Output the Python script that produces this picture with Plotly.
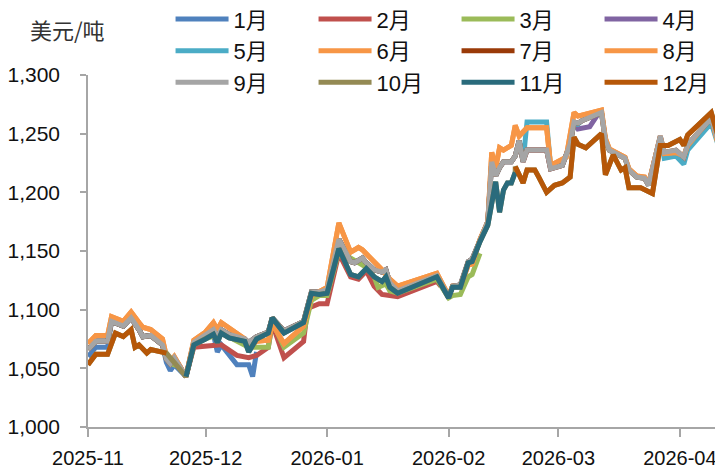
import plotly.graph_objects as go

# ---------------- data ----------------
month_labels = ["1月", "2月", "3月", "4月", "5月", "6月", "7月", "8月", "9月", "10月", "11月", "12月"]
colors = ["#4F81BD", "#C0504D", "#9BBB59", "#8064A2", "#4BACC6", "#F79646",
          "#9A3A08", "#F79646", "#A5A5A5", "#948A54", "#2A6B7C", "#B65708"]

# 9月 (gray)
m9 = [("2025-11-01", 1066), ("2025-11-03", 1073), ("2025-11-06", 1073), ("2025-11-07", 1090),
      ("2025-11-10", 1086), ("2025-11-12", 1093), ("2025-11-14", 1083), ("2025-11-15", 1077),
      ("2025-11-17", 1078), ("2025-11-20", 1070), ("2025-11-21", 1058), ("2025-11-22", 1054),
      ("2025-11-23", 1059), ("2025-11-26", 1043), ("2025-11-28", 1072), ("2025-12-01", 1078),
      ("2025-12-03", 1083), ("2025-12-04", 1077), ("2025-12-05", 1083), ("2025-12-07", 1079),
      ("2025-12-11", 1075), ("2025-12-12", 1072), ("2025-12-14", 1077), ("2025-12-17", 1081),
      ("2025-12-18", 1093), ("2025-12-21", 1082), ("2025-12-26", 1090), ("2025-12-28", 1115),
      ("2025-12-30", 1115), ("2026-01-01", 1117), ("2026-01-04", 1160), ("2026-01-07", 1141),
      ("2026-01-08", 1140), ("2026-01-10", 1144), ("2026-01-11", 1140), ("2026-01-13", 1134),
      ("2026-01-15", 1132), ("2026-01-16", 1134), ("2026-01-17", 1123), ("2026-01-19", 1116),
      ("2026-01-29", 1129), ("2026-02-01", 1111), ("2026-02-02", 1120), ("2026-02-04", 1121),
      ("2026-02-06", 1141), ("2026-02-07", 1143), ("2026-02-09", 1160), ("2026-02-11", 1175),
      ("2026-02-12", 1226), ("2026-02-13", 1214), ("2026-02-14", 1221), ("2026-02-15", 1226),
      ("2026-02-17", 1226), ("2026-02-18", 1231), ("2026-02-19", 1244), ("2026-02-20", 1226),
      ("2026-02-21", 1236), ("2026-02-26", 1236), ("2026-02-27", 1220), ("2026-03-02", 1223),
      ("2026-03-04", 1241), ("2026-03-05", 1260), ("2026-03-06", 1259), ("2026-03-07", 1261),
      ("2026-03-12", 1268), ("2026-03-13", 1244), ("2026-03-14", 1236), ("2026-03-18", 1229),
      ("2026-03-19", 1219), ("2026-03-21", 1213), ("2026-03-23", 1212), ("2026-03-24", 1206),
      ("2026-03-27", 1248), ("2026-03-28", 1234), ("2026-03-31", 1236), ("2026-04-02", 1230),
      ("2026-04-03", 1241), ("2026-04-09", 1263), ("2026-04-12", 1230)]

# 6月 / 8月 (orange)
m6 = [("2025-11-01", 1071), ("2025-11-03", 1078), ("2025-11-06", 1078), ("2025-11-07", 1094),
      ("2025-11-10", 1090), ("2025-11-12", 1098), ("2025-11-14", 1089), ("2025-11-15", 1085),
      ("2025-11-17", 1083), ("2025-11-20", 1075), ("2025-11-21", 1060), ("2025-11-22", 1056),
      ("2025-11-23", 1060), ("2025-11-26", 1043), ("2025-11-28", 1074), ("2025-12-01", 1081),
      ("2025-12-03", 1089), ("2025-12-04", 1083), ("2025-12-05", 1089), ("2025-12-07", 1084),
      ("2025-12-11", 1075), ("2025-12-12", 1068), ("2025-12-14", 1073), ("2025-12-17", 1074),
      ("2025-12-18", 1088), ("2025-12-21", 1071), ("2025-12-26", 1086), ("2025-12-28", 1112),
      ("2025-12-30", 1115), ("2026-01-01", 1119), ("2026-01-04", 1174), ("2026-01-07", 1149),
      ("2026-01-09", 1153), ("2026-01-10", 1151), ("2026-01-15", 1134), ("2026-01-17", 1126),
      ("2026-01-19", 1120), ("2026-01-29", 1131), ("2026-02-01", 1112), ("2026-02-02", 1120),
      ("2026-02-04", 1120), ("2026-02-06", 1138), ("2026-02-07", 1139), ("2026-02-09", 1160),
      ("2026-02-11", 1175), ("2026-02-12", 1234), ("2026-02-13", 1221), ("2026-02-14", 1238),
      ("2026-02-15", 1236), ("2026-02-17", 1240), ("2026-02-18", 1257), ("2026-02-19", 1248),
      ("2026-02-21", 1255), ("2026-02-26", 1255), ("2026-02-27", 1223), ("2026-03-03", 1230),
      ("2026-03-05", 1268), ("2026-03-06", 1265), ("2026-03-12", 1270), ("2026-03-13", 1246),
      ("2026-03-14", 1237), ("2026-03-18", 1230), ("2026-03-19", 1220), ("2026-03-21", 1214),
      ("2026-03-23", 1213), ("2026-03-24", 1207), ("2026-03-27", 1247), ("2026-03-28", 1233),
      ("2026-03-31", 1234), ("2026-04-02", 1231), ("2026-04-03", 1240), ("2026-04-09", 1264),
      ("2026-04-11", 1238), ("2026-04-12", 1235)]

# 12月 (dark orange): expiring contract in Nov, new contract from mid-Feb
m12_old = [("2025-11-01", 1053), ("2025-11-03", 1062), ("2025-11-06", 1062), ("2025-11-08", 1080),
           ("2025-11-10", 1077), ("2025-11-12", 1083), ("2025-11-13", 1068), ("2025-11-14", 1070),
           ("2025-11-16", 1063), ("2025-11-17", 1066), ("2025-11-21", 1063)]
m12_new = [("2026-02-18", 1222), ("2026-02-20", 1208), ("2026-02-21", 1219), ("2026-02-23", 1219),
           ("2026-02-24", 1213), ("2026-02-26", 1200), ("2026-02-28", 1206), ("2026-03-02", 1208),
           ("2026-03-04", 1213), ("2026-03-05", 1247), ("2026-03-06", 1241), ("2026-03-08", 1238),
           ("2026-03-12", 1250), ("2026-03-13", 1215), ("2026-03-15", 1232), ("2026-03-17", 1219),
           ("2026-03-18", 1221), ("2026-03-19", 1204), ("2026-03-22", 1204), ("2026-03-25", 1199),
           ("2026-03-27", 1240), ("2026-03-29", 1240), ("2026-04-01", 1245), ("2026-04-02", 1240),
           ("2026-04-03", 1249), ("2026-04-09", 1268), ("2026-04-11", 1245), ("2026-04-12", 1245)]

# 11月 (teal)
m11 = [("2025-11-26", 1043), ("2025-11-28", 1070), ("2025-12-01", 1075), ("2025-12-03", 1079),
       ("2025-12-04", 1072), ("2025-12-05", 1080), ("2025-12-07", 1076), ("2025-12-11", 1073),
       ("2025-12-12", 1064), ("2025-12-14", 1075), ("2025-12-17", 1080), ("2025-12-18", 1093),
       ("2025-12-21", 1080), ("2025-12-26", 1089), ("2025-12-28", 1114), ("2025-12-30", 1113),
       ("2026-01-01", 1114), ("2026-01-04", 1152), ("2026-01-07", 1130), ("2026-01-09", 1128),
       ("2026-01-11", 1135), ("2026-01-13", 1128), ("2026-01-15", 1124), ("2026-01-16", 1128),
       ("2026-01-17", 1119), ("2026-01-19", 1114), ("2026-01-29", 1128), ("2026-02-01", 1110),
       ("2026-02-02", 1119), ("2026-02-04", 1119), ("2026-02-06", 1140), ("2026-02-07", 1141),
       ("2026-02-09", 1158), ("2026-02-11", 1172), ("2026-02-13", 1209), ("2026-02-14", 1183),
       ("2026-02-15", 1202), ("2026-02-16", 1208), ("2026-02-17", 1208), ("2026-02-18", 1217)]

# 1月 (blue) until mid-Dec
m1_own = [("2025-11-01", 1060), ("2025-11-03", 1068), ("2025-11-06", 1068)]
m1_tail = [("2025-11-21", 1055), ("2025-11-22", 1048), ("2025-11-23", 1053), ("2025-11-26", 1043),
           ("2025-11-28", 1070), ("2025-12-01", 1075), ("2025-12-03", 1079), ("2025-12-04", 1064),
           ("2025-12-05", 1070), ("2025-12-09", 1053), ("2025-12-12", 1053), ("2025-12-13", 1043),
           ("2025-12-14", 1064)]

# 2月 (red) until end of Jan
m2_own = [("2025-11-28", 1068), ("2025-12-01", 1069), ("2025-12-05", 1070), ("2025-12-09", 1061),
          ("2025-12-12", 1059), ("2025-12-14", 1061), ("2025-12-17", 1068), ("2025-12-18", 1088),
          ("2025-12-21", 1059), ("2025-12-26", 1073), ("2025-12-27", 1101), ("2025-12-30", 1105),
          ("2026-01-01", 1105), ("2026-01-04", 1148), ("2026-01-07", 1128), ("2026-01-09", 1126),
          ("2026-01-11", 1133), ("2026-01-13", 1120), ("2026-01-15", 1113), ("2026-01-17", 1112),
          ("2026-01-19", 1111), ("2026-01-29", 1124), ("2026-01-30", 1120)]

# 3月 (green) until ~10 Feb
m3_own = [("2025-11-22", 1054), ("2025-11-24", 1052), ("2025-11-26", 1043), ("2025-11-28", 1070),
          ("2025-12-01", 1075), ("2025-12-05", 1080), ("2025-12-11", 1070), ("2025-12-12", 1068),
          ("2025-12-14", 1068), ("2025-12-17", 1068), ("2025-12-18", 1090), ("2025-12-21", 1068),
          ("2025-12-26", 1080), ("2025-12-28", 1108), ("2025-12-30", 1112), ("2026-01-01", 1112),
          ("2026-01-04", 1150), ("2026-01-07", 1144), ("2026-01-09", 1140), ("2026-01-11", 1136),
          ("2026-01-13", 1128), ("2026-01-14", 1119), ("2026-01-16", 1122), ("2026-01-17", 1116),
          ("2026-01-19", 1114), ("2026-01-29", 1126), ("2026-02-01", 1110), ("2026-02-02", 1112),
          ("2026-02-04", 1113), ("2026-02-06", 1128), ("2026-02-07", 1130), ("2026-02-09", 1148)]

# 4月 (purple) until ~11 Mar
m4_own = [("2026-03-06", 1254), ("2026-03-09", 1256), ("2026-03-11", 1266)]

# 5月 (light blue)
m5_own = [("2026-02-18", 1231), ("2026-02-19", 1244), ("2026-02-20", 1226), ("2026-02-21", 1260),
          ("2026-02-26", 1260), ("2026-02-27", 1223), ("2026-03-02", 1223), ("2026-03-04", 1241),
          ("2026-03-05", 1259), ("2026-03-06", 1258), ("2026-03-07", 1261), ("2026-03-12", 1268),
          ("2026-03-13", 1244), ("2026-03-14", 1236), ("2026-03-18", 1229), ("2026-03-19", 1219),
          ("2026-03-21", 1213), ("2026-03-23", 1212), ("2026-03-24", 1206), ("2026-03-27", 1246),
          ("2026-03-28", 1229), ("2026-03-31", 1231), ("2026-04-02", 1224), ("2026-04-03", 1236),
          ("2026-04-09", 1259), ("2026-04-12", 1227)]

tick_dates = ["2025-11-01", "2025-12-01", "2026-01-01", "2026-02-01", "2026-03-01", "2026-04-01"]
tick_text = ["2025-11", "2025-12", "2026-01", "2026-02", "2026-03", "2026-04"]
y_ticks = [1000, 1050, 1100, 1150, 1200, 1250, 1300]


def between(points, start, end):
    return [p for p in points if start <= p[0] <= end]


def gap():
    return [(None, None)]


series_points = [
    m1_own + between(m9, "2025-11-07", "2025-11-20") + m1_tail,                    # 1月
    between(m9, "2025-11-01", "2025-11-26") + m2_own,                              # 2月
    between(m9, "2025-11-01", "2025-11-21") + m3_own,                              # 3月
    between(m9, "2025-11-01", "2026-03-05") + m4_own,                              # 4月
    between(m9, "2025-11-01", "2026-02-17") + m5_own,                              # 5月
    m6,                                                                            # 6月
    m9,                                                                            # 7月
    m6,                                                                            # 8月
    m9,                                                                            # 9月
    m12_old + m11 + m12_new,                                                       # 10月
    m11,                                                                           # 11月
    m12_old + gap() + m12_new,                                                     # 12月
]

FONT = "Liberation Sans, Arial, Noto Sans CJK SC, sans-serif"

fig = go.Figure()
for name, color, pts in zip(month_labels, colors, series_points):
    fig.add_trace(go.Scatter(
        x=[p[0] for p in pts], y=[p[1] for p in pts], name=name, mode="lines",
        line=dict(color=color, width=5), connectgaps=False,
    ))

axis_color = "#A6A6A6"
# the page body adds an 8 px offset on the left and top, so the figure is 8 px smaller
fig.update_layout(
    width=715, height=461,
    margin=dict(l=80, r=0, t=67, b=42, autoexpand=False),
    paper_bgcolor="white", plot_bgcolor="white",
    font=dict(family=FONT, size=21, color="#111111"),
    showlegend=True,
    legend=dict(orientation="h", x=0.13, y=1.218, xanchor="left", yanchor="top",
                entrywidth=75, itemwidth=53, font=dict(size=22, family=FONT),
                bgcolor="rgba(0,0,0,0)", traceorder="normal"),
    xaxis=dict(type="date", range=["2025-11-01", "2026-04-12"], tickvals=tick_dates,
               ticktext=tick_text, showgrid=False, zeroline=False, showline=True,
               linecolor=axis_color, linewidth=1.5, ticks="outside", ticklen=8,
               tickcolor=axis_color, tickwidth=1.5, tickfont=dict(size=20),
               ticklabelstandoff=4),
    yaxis=dict(range=[1000, 1300], tickvals=y_ticks, tickformat=",", showgrid=False,
               zeroline=False, showline=True, linecolor=axis_color, linewidth=1.5,
               ticks="outside", ticklen=6, tickcolor=axis_color, tickwidth=1.5,
               tickfont=dict(size=21), ticklabelstandoff=16),
    annotations=[dict(text="美元/吨", xref="paper", yref="paper", x=-0.0315, y=1.131,
                      xanchor="center", yanchor="middle", showarrow=False,
                      font=dict(family="Noto Sans CJK SC", size=22, color="#333333"))],
)

fig.write_html("out.html")
